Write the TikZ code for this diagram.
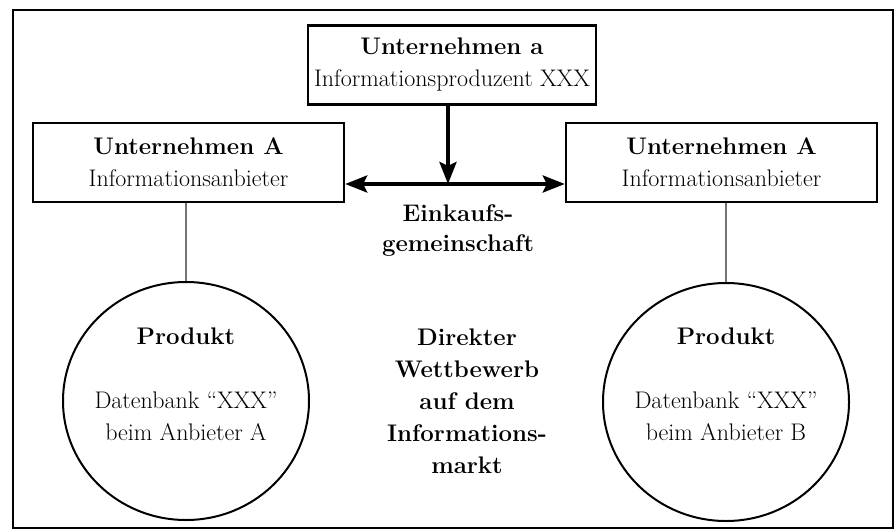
\documentclass[tikz,border=0pt]{standalone}
\usetikzlibrary{arrows.meta,shapes.geometric}
\begin{document}
\begin{tikzpicture}[x=1pt,y=-1pt,
  >={Stealth[length=22pt,width=17pt,inset=4pt]},
  txt/.style={font=\fontsize{24}{32}\selectfont, align=center, inner sep=0pt},
  firm/.style={draw, line width=2.4pt, minimum height=79pt, inner sep=0pt, font=\fontsize{24}{32}\selectfont, align=center},
  prod/.style={draw, ellipse, line width=2pt, minimum width=246pt, minimum height=238pt, inner sep=0pt},
  bigarrow/.style={line width=4pt},
  thin/.style={draw=black!55, line width=1.1pt}]
\useasboundingbox (0,0) rectangle (896,530);
\draw[line width=2.2pt] (13,10) rectangle (893,528);
\node[firm, minimum width=288pt] (top) at (452,65) {\textbf{Unternehmen a}\\Informationsproduzent XXX};
\node[firm, minimum width=311pt] (la) at (188.5,162.5) {\textbf{Unternehmen A}\\Informationsanbieter};
\node[firm, minimum width=311pt] (ra) at (721.5,162.5) {\textbf{Unternehmen A}\\Informationsanbieter};
\node[prod] (pa) at (186,401) {};
\node[prod] (pb) at (726,402) {};
\node[txt] (pat) at (186,384) {\textbf{Produkt}\\[32pt]Datenbank \textquotedblleft XXX\textquotedblright\\beim Anbieter A};
\node[txt] (pbt) at (726,384) {\textbf{Produkt}\\[32pt]Datenbank \textquotedblleft XXX\textquotedblright\\beim Anbieter B};
\coordinate (j) at (448,184);
\draw[bigarrow, ->] (top.south -| j) -- (j);
\draw[bigarrow, <->] (la.east |- j) -- (ra.west |- j);
\node[txt, font=\fontsize{24}{30}\selectfont\bfseries] (ek) at (458,231) {Einkaufs-\\gemeinschaft};
\node[txt, font=\fontsize{24}{32}\selectfont\bfseries] (dw) at (467,401) {Direkter\\Wettbewerb\\auf dem\\Informations-\\markt};
\draw[thin] (pa.north |- la.south) -- (pa.north);
\draw[thin] (pb.north |- ra.south) -- (pb.north);
\end{tikzpicture}
\end{document}
